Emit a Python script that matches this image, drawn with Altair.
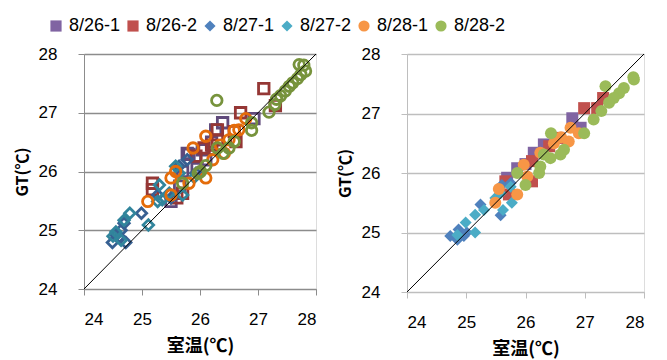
import altair as alt
import pandas as pd

series = ["8/26-1", "8/26-2", "8/27-1", "8/27-2", "8/28-1", "8/28-2"]
shapes = ["square", "square", "diamond", "diamond", "circle", "circle"]
light_colors = ["#8064A2", "#C0504D", "#4F81BD", "#4BACC6", "#F79646", "#9BBB59"]
dark_colors = ["#604A7B", "#953735", "#376092", "#31859C", "#E46C0A", "#77933C"]

# ---- left panel (hollow markers) ----
L_261_x = [25.50, 25.65, 25.78, 25.81, 25.95, 26.04, 26.10, 26.27, 26.39, 26.93, 25.70, 26.20]
L_261_y = [25.49, 25.75, 26.31, 26.29, 26.05, 26.37, 26.20, 26.71, 26.83, 26.90, 26.00, 26.50]
L_262_x = [27.10, 27.30, 26.70, 26.30, 26.30, 26.59, 26.62, 26.07, 25.93, 25.70, 25.18, 25.18, 25.60, 26.20]
L_262_y = [27.41, 27.12, 27.00, 26.71, 26.54, 26.68, 26.51, 26.40, 26.26, 25.63, 25.80, 25.69, 25.55, 26.45]
L_271_x = [24.49, 24.61, 24.72, 24.55, 24.99, 24.64, 24.69, 25.64, 25.78, 25.93, 25.27, 25.50]
L_271_y = [24.79, 24.89, 24.79, 24.92, 25.29, 25.00, 25.12, 26.09, 26.20, 25.97, 25.60, 25.55]
L_272_x = [24.79, 24.69, 24.55, 24.64, 25.11, 25.30, 25.27, 25.70, 25.58, 25.47, 25.35, 25.64, 24.50, 25.90]
L_272_y = [25.29, 25.17, 24.97, 24.83, 25.09, 25.77, 25.49, 25.60, 26.09, 25.63, 25.52, 25.97, 24.90, 25.90]
L_281_x = [26.79, 26.67, 26.59, 26.50, 26.42, 26.10, 25.88, 26.22, 26.10, 25.81, 25.58, 25.50, 25.50, 25.10, 26.35]
L_281_y = [26.90, 26.71, 26.70, 26.54, 26.31, 26.60, 26.40, 26.20, 25.89, 25.80, 26.00, 25.89, 25.60, 25.49, 26.45]
L_282_x = [27.71, 27.79, 27.82, 27.74, 27.68, 27.60, 27.54, 27.47, 27.39, 27.32, 27.29, 27.19,
           26.89, 26.89, 26.29, 26.59, 26.50, 26.40, 26.30, 26.10, 26.01, 25.97, 25.70]
L_282_y = [27.82, 27.81, 27.71, 27.65, 27.58, 27.51, 27.45, 27.37, 27.29, 27.23, 27.14, 27.01,
           26.83, 26.70, 27.21, 26.51, 26.40, 26.31, 26.40, 26.10, 26.00, 25.97, 25.80]

# ---- right panel (filled markers) ----
R_261_x = [26.79, 26.93, 26.31, 26.14, 25.86, 25.69, 26.00]
R_261_y = [26.92, 26.76, 26.48, 26.34, 26.08, 25.92, 26.15]
R_262_x = [26.99, 27.31, 27.21, 26.56, 26.11, 26.11, 25.66, 25.72, 26.40]
R_262_y = [27.09, 27.26, 27.09, 26.59, 26.20, 25.86, 25.86, 25.64, 26.45]
R_271_x = [25.24, 25.58, 24.73, 24.85, 24.96, 24.87, 25.75, 25.01, 25.60]
R_271_y = [25.47, 25.29, 24.94, 24.88, 24.94, 25.05, 25.83, 25.00, 25.80]
R_272_x = [25.15, 24.99, 24.85, 25.15, 25.30, 25.62, 25.77, 25.49, 25.75, 25.58]
R_272_y = [25.30, 25.17, 24.96, 25.00, 25.38, 25.38, 25.50, 25.58, 25.77, 25.66]
R_281_x = [26.76, 26.90, 26.73, 26.48, 26.25, 25.97, 26.03, 25.86, 25.55, 25.49, 26.60]
R_281_y = [26.76, 26.67, 26.53, 26.50, 26.34, 26.14, 25.94, 25.64, 25.73, 25.50, 26.60]
R_282_x = [27.82, 27.83, 27.66, 27.58, 27.49, 27.41, 27.35, 27.28, 27.15, 26.99, 26.43,
           26.65, 26.59, 26.42, 26.31, 26.25, 26.23, 26.00, 25.86]
R_282_y = [27.61, 27.57, 27.43, 27.34, 27.26, 27.18, 27.46, 27.04, 26.90, 26.67, 26.67,
           26.39, 26.31, 26.25, 26.31, 26.11, 26.00, 25.80, 26.00]

diag_v = [24, 28]


def frame(groups):
    rows = []
    for name, xs, ys in groups:
        for a, b in zip(xs, ys):
            rows.append({"series": name, "x": a, "y": b})
    return pd.DataFrame(rows)


left_df = frame([("8/26-1", L_261_x, L_261_y), ("8/26-2", L_262_x, L_262_y),
                 ("8/27-1", L_271_x, L_271_y), ("8/27-2", L_272_x, L_272_y),
                 ("8/28-1", L_281_x, L_281_y), ("8/28-2", L_282_x, L_282_y)])
right_df = frame([("8/26-1", R_261_x, R_261_y), ("8/26-2", R_262_x, R_262_y),
                  ("8/27-1", R_271_x, R_271_y), ("8/27-2", R_272_x, R_272_y),
                  ("8/28-1", R_281_x, R_281_y), ("8/28-2", R_282_x, R_282_y)])
diag_df = pd.DataFrame({"x": diag_v, "y": diag_v})

FONT = "Liberation Sans Narrow, Liberation Sans, sans-serif"
CJK = "Noto Sans CJK JP"


def x_enc(grid_color):
    return alt.X("x:Q", scale=alt.Scale(domain=[24, 28], nice=False),
                 axis=alt.Axis(values=[24, 25, 26, 27, 28], format="d", grid=False, title="室温(℃)",
                               titleFont=CJK, titleFontSize=18, titleFontWeight="bold",
                               titleColor="#000", labelFont=FONT, labelFontSize=17,
                               labelColor="#000", domainColor=grid_color, tickColor=grid_color,
                               tickSize=6, labelPadding=16, titlePadding=10))


def y_enc(grid_color):
    return alt.Y("y:Q", scale=alt.Scale(domain=[24, 28], nice=False),
                 axis=alt.Axis(values=[24, 25, 26, 27, 28], format="d", grid=True, gridColor=grid_color,
                               gridWidth=1.5, title="GT(℃)", titleFont=CJK, titleFontSize=16,
                               titleFontWeight="bold", titleColor="#000", labelFont=FONT,
                               labelFontSize=17, labelColor="#000", domainColor=grid_color,
                               tickColor=grid_color, tickSize=6, labelPadding=21, titlePadding=8))


LEG = alt.Legend(orient="none", direction="horizontal", title=None, legendX=-37,
                 legendY=-37, labelFont=FONT, labelFontSize=18, labelColor="#000",
                 symbolSize=125, symbolStrokeWidth=0, columnPadding=3, labelOffset=4)


def panel(df, filled, colors, sizes, grid_color, w, h):
    shape = alt.Shape("series:N", scale=alt.Scale(domain=series, range=shapes), legend=LEG)
    size = alt.Size("series:N", scale=alt.Scale(domain=series, range=sizes), legend=None)
    if filled:
        col = dict(color=alt.Color("series:N", scale=alt.Scale(domain=series, range=colors), legend=LEG))
        mk = alt.Chart(df).mark_point(filled=True, opacity=1, strokeWidth=0)
    else:
        col = dict(stroke=alt.Stroke("series:N", scale=alt.Scale(domain=series, range=colors), legend=None))
        mk = alt.Chart(df).mark_point(filled=False, opacity=1, strokeWidth=2.8)
    pts = mk.encode(x=x_enc(grid_color), y=y_enc(grid_color), shape=shape, size=size, **col)
    line = alt.Chart(diag_df).mark_line(color="#000", strokeWidth=1).encode(
        x=alt.X("x:Q", scale=alt.Scale(domain=[24, 28], nice=False)),
        y=alt.Y("y:Q", scale=alt.Scale(domain=[24, 28], nice=False)))
    return alt.layer(pts, line).properties(width=w, height=h)


left = panel(left_df, False, dark_colors, [110, 110, 125, 125, 125, 125], "#8C8C8C", 232, 235)
right = panel(right_df, True, light_colors, [144, 144, 170, 170, 200, 200], "#BEBEBE", 237, 238)

chart = alt.hconcat(left, right, spacing=17).resolve_scale(
    size="independent"
).properties(padding={"left": 5, "top": 9, "right": 5, "bottom": 5}
).configure_view(stroke=None).configure(background="white")

chart.save("out.html", embed_options={"renderer": "svg", "actions": False})
